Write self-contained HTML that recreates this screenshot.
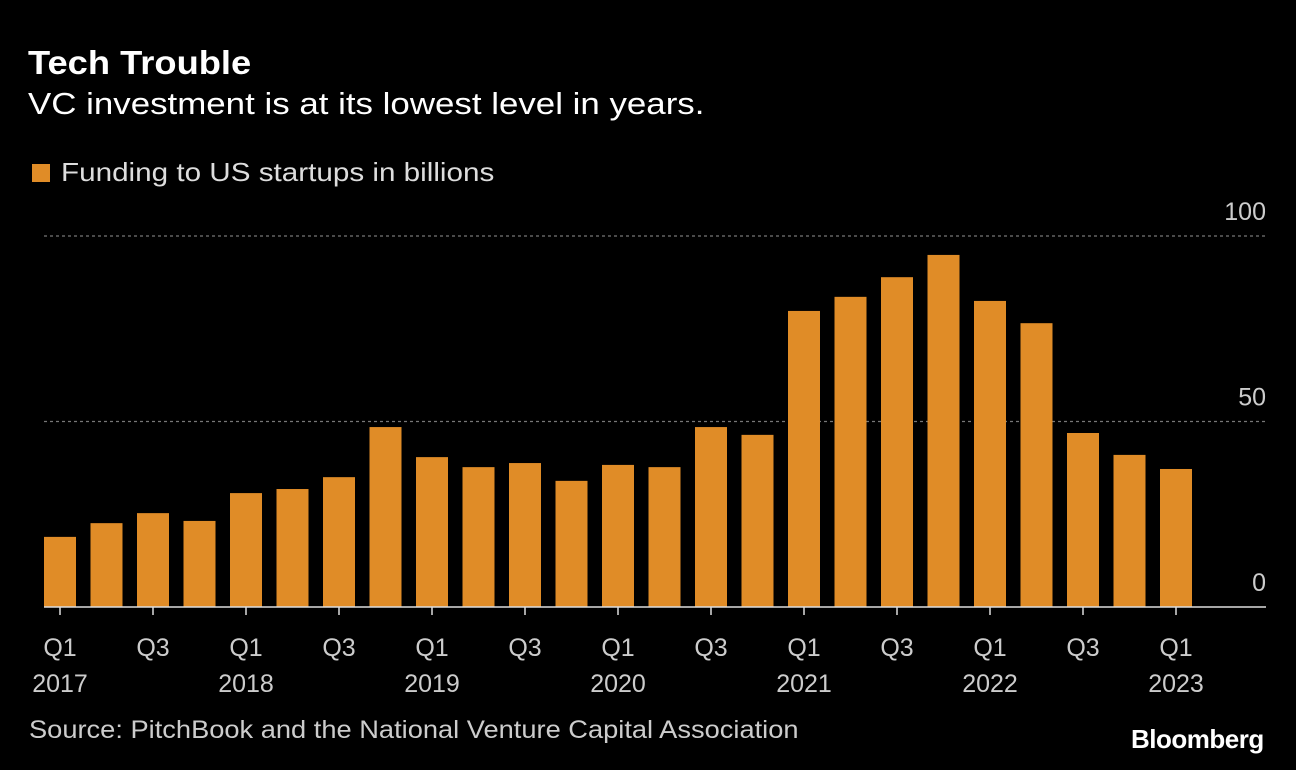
<!DOCTYPE html>
<html><head><meta charset="utf-8"><style>
body{margin:0;background:#000;width:1296px;height:770px;overflow:hidden;font-family:"Liberation Sans",sans-serif;color:#e6e6e6}
.t{position:absolute;white-space:nowrap;transform-origin:left top}
</style></head><body>
<div class="t" style="left:28px;top:44px;font-size:33px;font-weight:bold;color:#fff;transform:scaleX(1.1)">Tech Trouble</div>
<div class="t" style="left:28px;top:86px;font-size:31px;color:#fff;transform:scaleX(1.125)">VC investment is at its lowest level in years.</div>
<div class="t" style="left:32px;top:157px;font-size:26px;color:#ddd"><span style="display:inline-block;width:18px;height:18px;background:#e08c27;margin-right:11px;vertical-align:-1px"></span><span style="display:inline-block;transform:scaleX(1.14);transform-origin:left">Funding to US startups in billions</span></div>
<svg id="c" width="1296" height="770" style="position:absolute;left:0;top:0"></svg>
<div class="t" style="left:29px;top:716px;font-size:25px;color:#ccc;transform:scaleX(1.09)">Source: PitchBook and the National Venture Capital Association</div>
<div class="t" style="left:1131px;top:724px;font-size:26px;font-weight:bold;color:#fff;letter-spacing:-0.5px">Bloomberg</div>
<script>
const categories=["Q1 2017","Q2 2017","Q3 2017","Q4 2017","Q1 2018","Q2 2018","Q3 2018","Q4 2018","Q1 2019","Q2 2019","Q3 2019","Q4 2019","Q1 2020","Q2 2020","Q3 2020","Q4 2020","Q1 2021","Q2 2021","Q3 2021","Q4 2021","Q1 2022","Q2 2022","Q3 2022","Q4 2022","Q1 2023"];
const values=[18.9,22.6,25.3,23.2,30.7,31.8,35,48.5,40.4,37.7,38.8,34,38.3,37.7,48.5,46.4,79.8,83.6,88.9,94.9,82.5,76.5,46.9,41,37.2];
const yTicks=[0,50,100];
const xTickLabels=[["Q1","2017"],["Q3",""],["Q1","2018"],["Q3",""],["Q1","2019"],["Q3",""],["Q1","2020"],["Q3",""],["Q1","2021"],["Q3",""],["Q1","2022"],["Q3",""],["Q1","2023"]];
const svg=document.getElementById('c');const NS='http://www.w3.org/2000/svg';
const y0=607,yk=(607-236)/100;const y=v=>y0-v*yk;
const x=i=>60+i*46.5;const bw=32;
function mk(t,a){const e=document.createElementNS(NS,t);for(const k in a)e.setAttribute(k,a[k]);svg.appendChild(e);return e;}
yTicks.forEach(v=>{
 if(v>0){const l=mk('line',{x1:44,x2:1266,y1:y(v),y2:y(v),stroke:'#777','stroke-dasharray':'3,3','stroke-width':1.3});
 
 }
 const t=mk('text',{x:1266,y:y(v)-16,'text-anchor':'end','font-size':25,fill:'#ccc','font-family':'Liberation Sans'});t.textContent=v;
 
 
});
values.forEach((v,i)=>{const r=mk('rect',{x:x(i)-bw/2,y:y(v),width:bw,height:y0-y(v),fill:'#e08c27'});
 
 });
const ax=mk('line',{x1:44,x2:1266,y1:y0,y2:y0,stroke:'#ddd','stroke-width':1.5});


xTickLabels.forEach((lb,j)=>{const i=j*2;
 const tk=mk('line',{x1:x(i),x2:x(i),y1:y0,y2:y0+8,stroke:'#ddd','stroke-width':1.5});
 
 
 lb.forEach((s,k)=>{if(!s)return;const t=mk('text',{x:x(i),y:656+k*36,'text-anchor':'middle','font-size':25,fill:'#ccc','font-family':'Liberation Sans'});t.textContent=s;
 
 });
});
</script>
</body></html>
